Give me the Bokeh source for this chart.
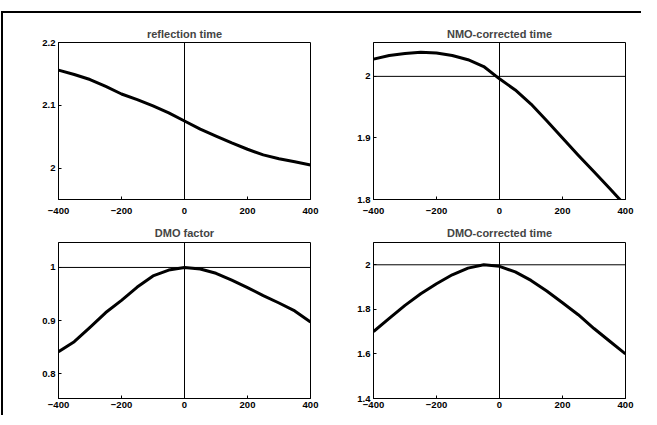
from bokeh.plotting import figure
from bokeh.layouts import gridplot, column
from bokeh.models import Span, FixedTicker, Range1d
from bokeh.embed import file_html
from bokeh.resources import INLINE

# ---- data ----
offsets = [-400, -350, -300, -250, -200, -150, -100, -50, 0, 50, 100, 150, 200, 250, 300, 350, 400]
reflection_time = [2.156, 2.149, 2.141, 2.130, 2.118, 2.109, 2.099, 2.088, 2.075, 2.062, 2.051, 2.040, 2.030, 2.021, 2.015, 2.010, 2.005]
nmo_time = [2.028, 2.034, 2.037, 2.039, 2.038, 2.034, 2.027, 2.016, 1.996, 1.978, 1.955, 1.928, 1.900, 1.872, 1.845, 1.818, 1.790]
dmo_factor = [0.841, 0.860, 0.887, 0.915, 0.938, 0.963, 0.984, 0.995, 1.000, 0.997, 0.989, 0.976, 0.962, 0.947, 0.933, 0.918, 0.897]
dmo_time = [1.700, 1.760, 1.818, 1.870, 1.915, 1.955, 1.985, 2.000, 1.993, 1.968, 1.930, 1.882, 1.830, 1.776, 1.714, 1.657, 1.600]

titles = ["reflection time", "NMO-corrected time", "DMO factor", "DMO-corrected time"]
x_ticks = [-400, -200, 0, 200, 400]
y_ticks = [[2, 2.1, 2.2], [1.8, 1.9, 2], [0.8, 0.9, 1], [1.4, 1.6, 1.8, 2]]
y_labels = [["2", "2.1", "2.2"], ["1.8", "1.9", "2"], ["0.8", "0.9", "1"], ["1.4", "1.6", "1.8", "2"]]
y_ranges = [(1.95, 2.2), (1.8, 2.055), (0.753, 1.047), (1.4, 2.1)]
h_lines = [None, 2, 1, 2]
series = [reflection_time, nmo_time, dmo_factor, dmo_time]

FONT = "Liberation Sans"

# layout geometry: (width, height, left, right, top, bottom, title standoff, x label standoff)
geom = [
    (324, 208, 55, 17, 29, 22, 6, 8),
    (308, 208, 45, 10, 29, 22, 6, 8),
    (324, 194, 55, 17, 21, 17, 7, 3),
    (308, 194, 46, 9, 21, 17, 7, 3),
]

figs = []
for i in range(4):
    w, h, bl, br, bt, bb, ts, xs = geom[i]
    p = figure(width=w, height=h, output_backend="svg", toolbar_location=None,
               x_range=Range1d(-400, 400), y_range=Range1d(*y_ranges[i]),
               min_border_left=bl, min_border_right=br, min_border_top=bt, min_border_bottom=bb,
               title=titles[i])
    p.title.text_font = FONT
    p.title.text_font_size = "11px"
    p.title.text_font_style = "bold"
    p.title.align = "center"
    p.title.standoff = ts
    p.grid.visible = False
    p.outline_line_color = "black"
    p.outline_line_width = 1
    p.outline_line_alpha = 1
    for ax in (p.xaxis[0], p.yaxis[0]):
        ax.major_label_text_font = FONT
        ax.major_label_text_font_size = "9.5px"
        ax.major_label_text_font_style = "bold"
        ax.major_label_text_color = "black"
        ax.axis_line_color = "black"
        ax.major_tick_line_color = "black"
        ax.major_tick_in = 3
        ax.major_tick_out = 0
        ax.minor_tick_line_color = None
    p.xaxis[0].major_label_standoff = xs
    p.yaxis[0].major_label_standoff = 3
    p.xaxis[0].ticker = FixedTicker(ticks=x_ticks)
    p.yaxis[0].ticker = FixedTicker(ticks=y_ticks[i])
    p.yaxis[0].major_label_overrides = {t: l for t, l in zip(y_ticks[i], y_labels[i])}
    p.add_layout(Span(location=0, dimension="height", line_color="black", line_width=1))
    if h_lines[i] is not None:
        p.add_layout(Span(location=h_lines[i], dimension="width", line_color="black", line_width=1))
    p.line(offsets, series[i], line_color="black", line_width=3, line_join="round")
    figs.append(p)

grid = gridplot([[figs[0], figs[1]], [figs[2], figs[3]]], toolbar_location=None)
page = column(grid, styles={"border-top": "2px solid black", "border-left": "2px solid black",
                            "margin-top": "11px", "margin-left": "1px", "padding-right": "6px"})

open("out.html", "w").write(file_html(page, INLINE))
